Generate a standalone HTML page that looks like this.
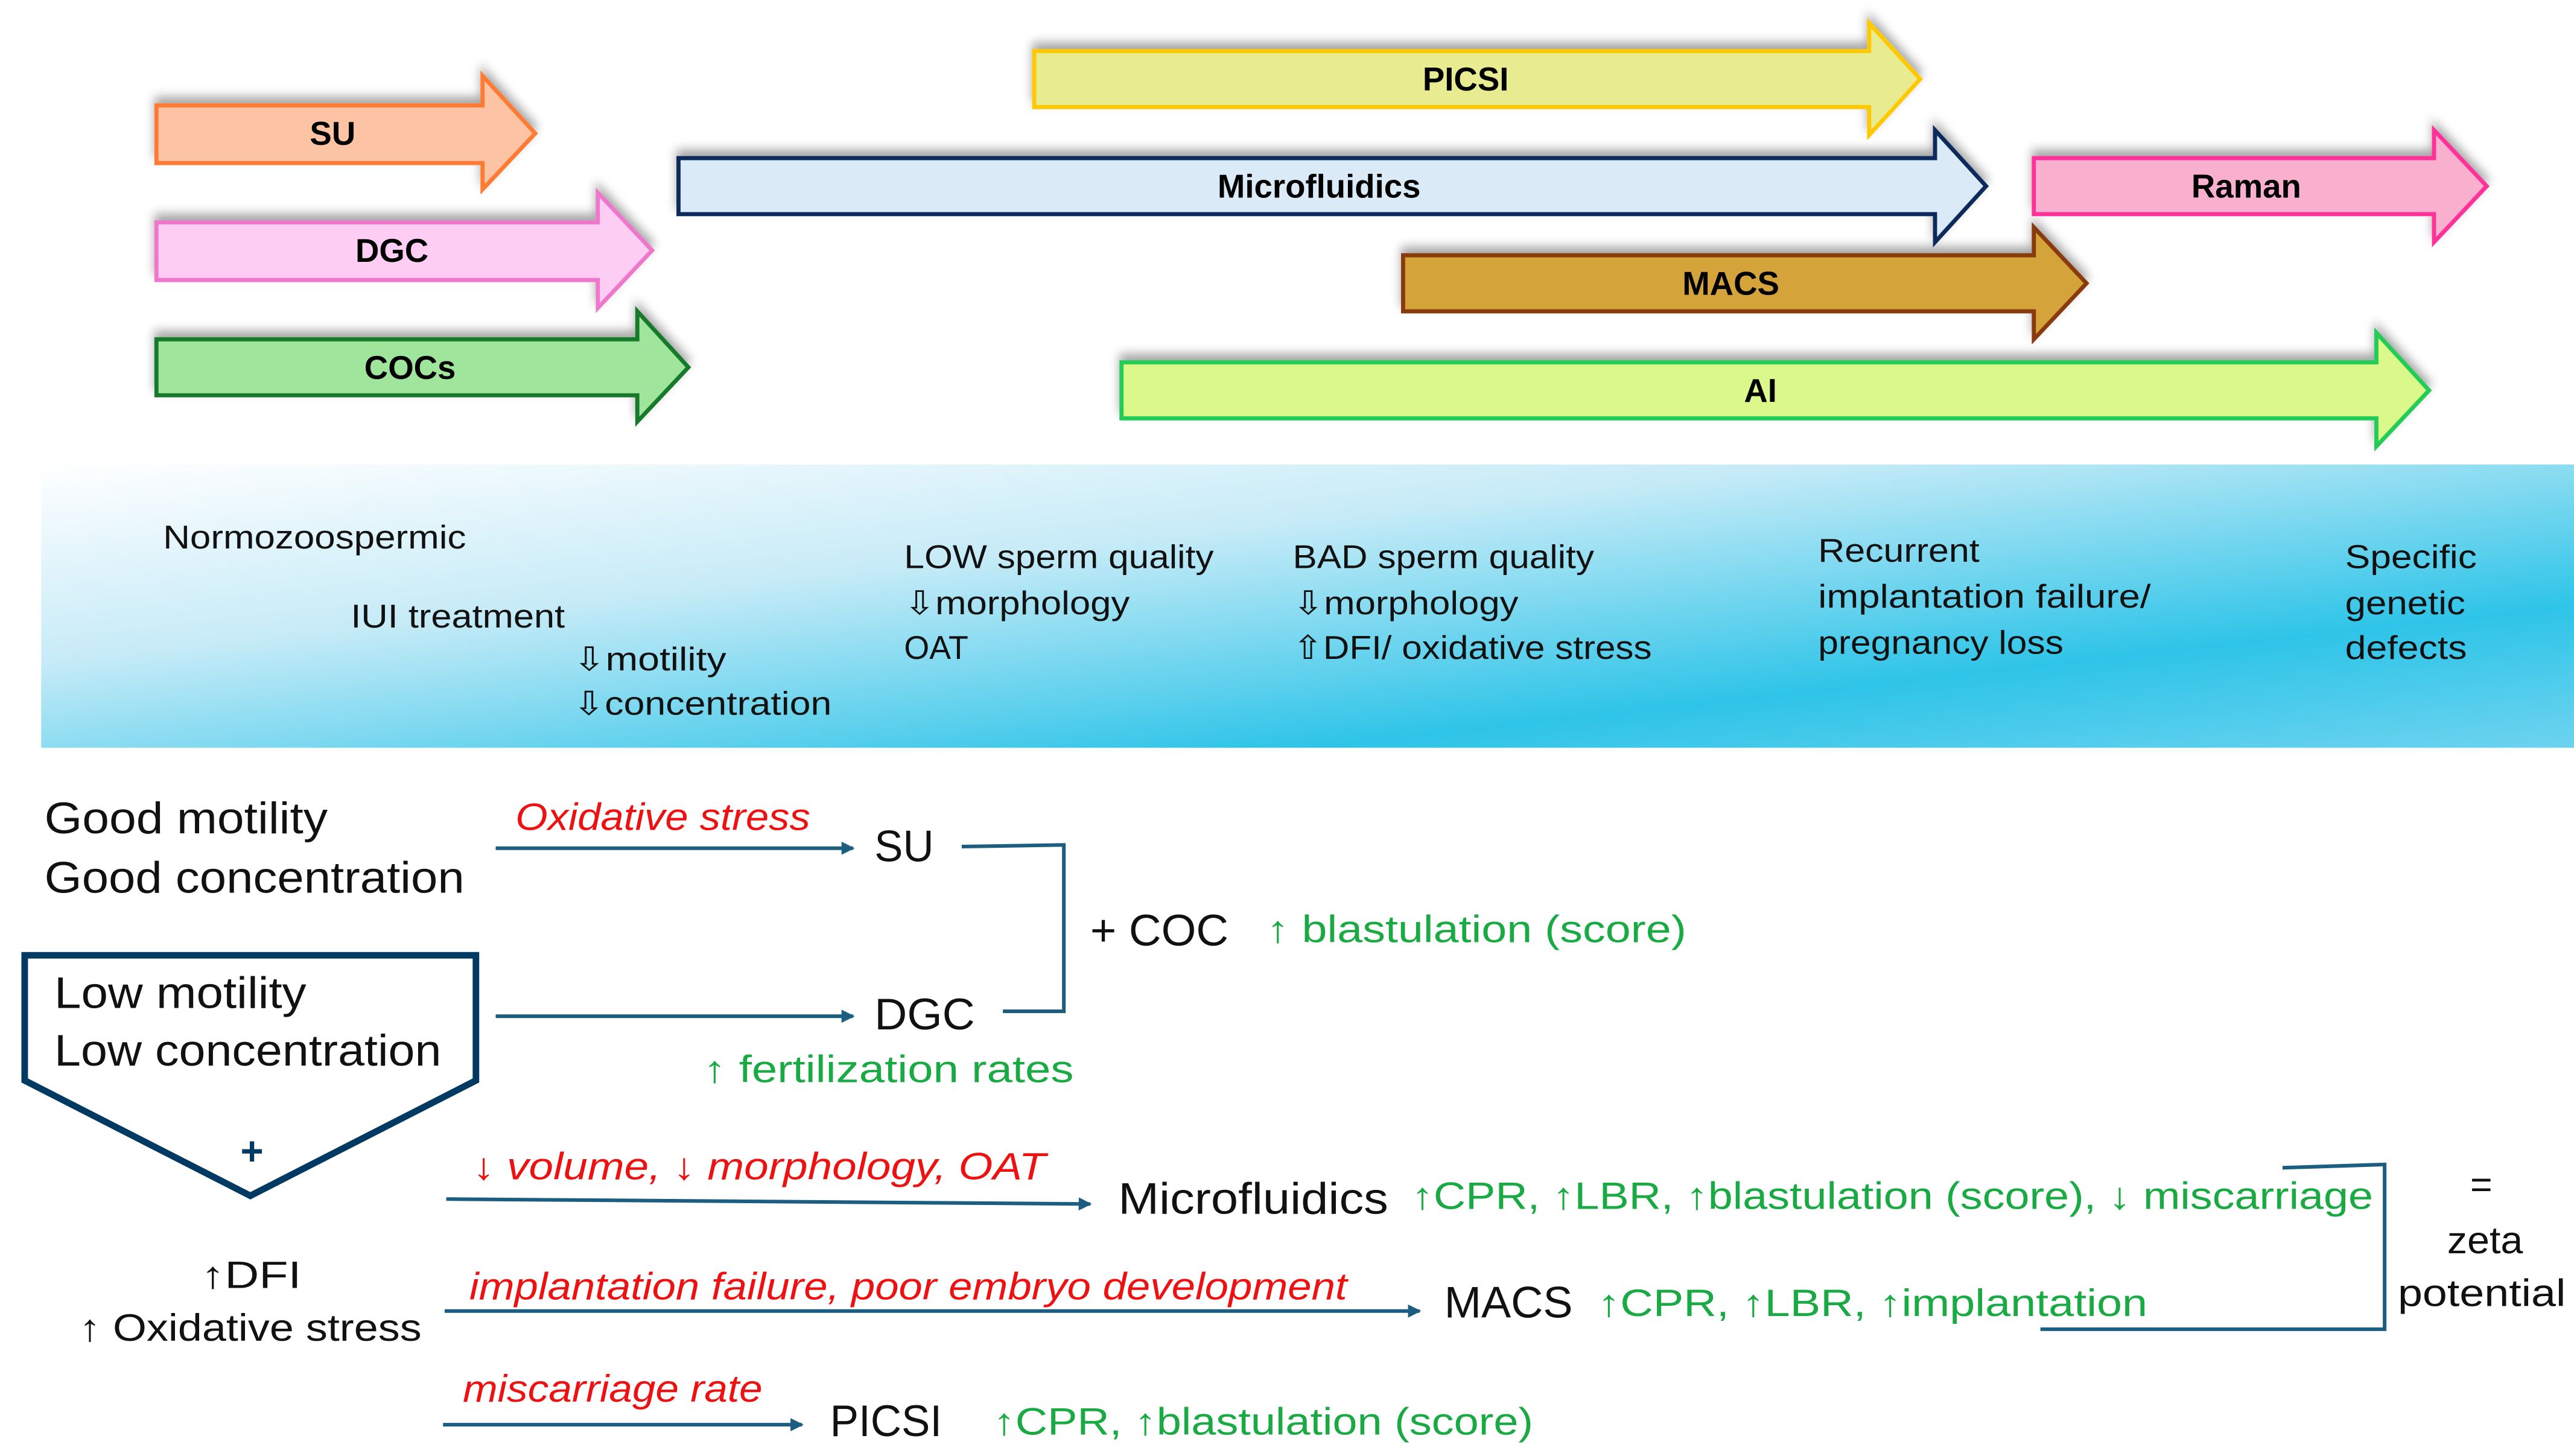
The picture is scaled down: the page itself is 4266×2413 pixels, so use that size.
<!DOCTYPE html>
<html><head><meta charset="utf-8"><style>
html,body{margin:0;padding:0;background:#fff}
svg{display:block}
text{font-family:"Liberation Sans","DejaVu Sans",sans-serif}
.a{font-family:"DejaVu Sans",sans-serif;font-size:26px}
</style></head><body>
<svg width="4266" height="2413" viewBox="0 0 1563 884" preserveAspectRatio="none" xmlns="http://www.w3.org/2000/svg">
<defs>
<linearGradient id="band" x1="0" y1="0" x2="1" y2="1" gradientUnits="objectBoundingBox">
<stop offset="0" stop-color="#ffffff"/><stop offset="0.35" stop-color="#c6ebf7"/><stop offset="0.75" stop-color="#2ec4e8"/><stop offset="1" stop-color="#6dd3ef"/>
</linearGradient>
<filter id="sh" x="-5%" y="-30%" width="110%" height="160%"><feDropShadow dx="0" dy="-4" stdDeviation="3" flood-color="#000" flood-opacity="0.35"/></filter>
<marker id="ah" markerWidth="8" markerHeight="8" refX="7" refY="4" orient="auto" markerUnits="userSpaceOnUse"><path d="M0,0 L8,4 L0,8 z" fill="#1b5e80"/></marker>
</defs>
<g stroke-width="2.5" filter="url(#sh)">
<path d="M95,64 H293 V46 L325,81 L293,115 V99 H95 Z" fill="#fcc4a4" stroke="#ff7a30"/>
<path d="M95,135 H363 V117 L396,152 L363,187 V170 H95 Z" fill="#fdcdf3" stroke="#ee77cc"/>
<path d="M95,206 H387 V189 L418,223 L387,256 V240 H95 Z" fill="#9fe59b" stroke="#127a2a"/>
<path d="M628,31 H1135 V14 L1166,48 L1135,82 V65 H628 Z" fill="#e8eb8f" stroke="#ffc800"/>
<path d="M412,96 H1175 V79 L1206,113 L1175,147 V130 H412 Z" fill="#dbeaf7" stroke="#0b2a5c"/>
<path d="M1235,96 H1478 V79 L1510,113 L1478,147 V130 H1235 Z" fill="#f9b0cf" stroke="#ff3399"/>
<path d="M852,155 H1235 V138 L1267,172 L1235,206 V189 H852 Z" fill="#d4a43a" stroke="#8a3a10"/>
<path d="M681,220 H1443 V202 L1475,237 L1443,271 V254 H681 Z" fill="#daf98a" stroke="#22cc55"/>
</g>
<g font-weight="bold" font-size="20" text-anchor="middle" fill="#000">
<text x="202" y="88">SU</text><text x="238" y="159">DGC</text><text x="249" y="230">COCs</text>
<text x="890" y="55">PICSI</text><text x="801" y="120">Microfluidics</text><text x="1364" y="120">Raman</text>
<text x="1051" y="179">MACS</text><text x="1069" y="244">AI</text>
</g>
<rect x="25" y="282" width="1538" height="172" fill="url(#band)"/>
<g font-size="20" fill="#111" lengthAdjust="spacingAndGlyphs">
<text x="99" y="333" textLength="184" lengthAdjust="spacingAndGlyphs">Normozoospermic</text>
<text x="213" y="381" textLength="130" lengthAdjust="spacingAndGlyphs">IUI treatment</text>
<text x="348" y="407" textLength="93" lengthAdjust="spacingAndGlyphs">⇩motility</text>
<text x="348" y="434" textLength="157" lengthAdjust="spacingAndGlyphs">⇩concentration</text>
<text x="549" y="345" textLength="188" lengthAdjust="spacingAndGlyphs">LOW sperm quality</text>
<text x="549" y="373" textLength="137" lengthAdjust="spacingAndGlyphs">⇩morphology</text>
<text x="549" y="400" textLength="39" lengthAdjust="spacingAndGlyphs">OAT</text>
<text x="785" y="345" textLength="183" lengthAdjust="spacingAndGlyphs">BAD sperm quality</text>
<text x="785" y="373" textLength="137" lengthAdjust="spacingAndGlyphs">⇩morphology</text>
<text x="785" y="400" textLength="218" lengthAdjust="spacingAndGlyphs">⇧DFI/ oxidative stress</text>
<text x="1104" y="341" textLength="98" lengthAdjust="spacingAndGlyphs">Recurrent</text>
<text x="1104" y="369" textLength="202" lengthAdjust="spacingAndGlyphs">implantation failure/</text>
<text x="1104" y="397" textLength="149" lengthAdjust="spacingAndGlyphs">pregnancy loss</text>
<text x="1424" y="345" textLength="80" lengthAdjust="spacingAndGlyphs">Specific</text>
<text x="1424" y="373" textLength="73" lengthAdjust="spacingAndGlyphs">genetic</text>
<text x="1424" y="400" textLength="74" lengthAdjust="spacingAndGlyphs">defects</text>
</g>
<g font-size="27" fill="#111">
<text x="27" y="506" textLength="172" lengthAdjust="spacingAndGlyphs">Good motility</text>
<text x="27" y="542" textLength="255" lengthAdjust="spacingAndGlyphs">Good concentration</text>
<text x="33" y="612" textLength="153" lengthAdjust="spacingAndGlyphs">Low motility</text>
<text x="33" y="647" textLength="235" lengthAdjust="spacingAndGlyphs">Low concentration</text>
<text x="531" y="523" textLength="36" lengthAdjust="spacingAndGlyphs">SU</text>
<text x="531" y="625" textLength="61" lengthAdjust="spacingAndGlyphs">DGC</text>
<text x="662" y="574" textLength="84" lengthAdjust="spacingAndGlyphs">+ COC</text>
<text x="679" y="737" textLength="164" lengthAdjust="spacingAndGlyphs">Microfluidics</text>
<text x="877" y="800" textLength="78" lengthAdjust="spacingAndGlyphs">MACS</text>
<text x="504" y="872" textLength="68" lengthAdjust="spacingAndGlyphs">PICSI</text>
</g>
<path d="M15,580 H289 V656 L152,726 L15,656 Z" fill="none" stroke="#003a63" stroke-width="4"/>
<text x="153" y="707" font-size="24" font-weight="bold" fill="#003a63" text-anchor="middle">+</text>
<g font-size="23" fill="#111">
<text x="122" y="782" textLength="61" lengthAdjust="spacingAndGlyphs">↑DFI</text>
<text x="48" y="814" textLength="208" lengthAdjust="spacingAndGlyphs">↑ Oxidative stress</text>
<text x="1500" y="727">=</text>
<text x="1486" y="761" textLength="46" lengthAdjust="spacingAndGlyphs">zeta</text>
<text x="1456" y="793" textLength="102" lengthAdjust="spacingAndGlyphs">potential</text>
</g>
<g font-size="23" font-style="italic" fill="#ee1111">
<text x="313" y="504" textLength="179" lengthAdjust="spacingAndGlyphs">Oxidative stress</text>
<text x="287" y="716" textLength="348" lengthAdjust="spacingAndGlyphs">↓ volume, ↓ morphology, OAT</text>
<text x="285" y="789" textLength="533" lengthAdjust="spacingAndGlyphs">implantation failure, poor embryo development</text>
<text x="281" y="851" textLength="182" lengthAdjust="spacingAndGlyphs">miscarriage rate</text>
</g>
<g font-size="23" fill="#1aaa44">
<text x="769" y="572" textLength="255" lengthAdjust="spacingAndGlyphs">↑  blastulation (score)</text>
<text x="427" y="657" textLength="225" lengthAdjust="spacingAndGlyphs">↑  fertilization rates</text>
<text x="857" y="734" textLength="584" lengthAdjust="spacingAndGlyphs">↑CPR, ↑LBR, ↑blastulation (score), ↓ miscarriage</text>
<text x="970" y="799" textLength="334" lengthAdjust="spacingAndGlyphs">↑CPR, ↑LBR, ↑implantation</text>
<text x="603" y="871" textLength="328" lengthAdjust="spacingAndGlyphs">↑CPR, ↑blastulation (score)</text>
</g>
<g stroke="#1b5e80" stroke-width="2.2" fill="none">
<line x1="301" y1="515" x2="518" y2="515" marker-end="url(#ah)"/>
<line x1="301" y1="617" x2="518" y2="617" marker-end="url(#ah)"/>
<polyline points="584,514 646,513 646,614 609,614"/>
<line x1="271" y1="728" x2="662" y2="731" marker-end="url(#ah)"/>
<line x1="270" y1="796" x2="862" y2="796" marker-end="url(#ah)"/>
<line x1="269" y1="865" x2="487" y2="865" marker-end="url(#ah)"/>
<polyline points="1386,709 1448,707 1448,807 1239,807"/>
</g>
</svg>
</body></html>
